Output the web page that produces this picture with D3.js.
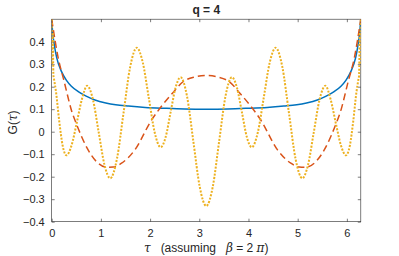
<!DOCTYPE html>
<html>
<head>
<meta charset="utf-8">
<script src="https://cdn.jsdelivr.net/npm/d3@7"></script>
<style>
    body { margin: 0; background: #fff; }
    text { font-family: "Liberation Sans", Arial, sans-serif; fill: #262626; }
</style>
</head>
<body>
<div id="chart"></div>
<script>
// values, tau from 0 to 2*pi
let blueTau = [0, 0.02, 0.05, 0.1, 0.2, 0.3, 0.4, 0.54, 0.7, 0.88, 1.1, 1.3, 1.56, 1.9, 2.3, 2.7, 3.1416,
    3.58, 3.98, 4.38, 4.72, 4.98, 5.18, 5.40, 5.58, 5.74, 5.88, 5.98, 6.08, 6.18, 6.23, 6.26, 6.2832];
let blueG = [0.5, 0.44, 0.39, 0.33, 0.267, 0.228, 0.202, 0.178, 0.158, 0.141, 0.128, 0.12, 0.114, 0.108, 0.104, 0.101, 0.1,
    0.101, 0.104, 0.108, 0.114, 0.12, 0.128, 0.141, 0.158, 0.178, 0.202, 0.228, 0.267, 0.33, 0.39, 0.44, 0.5];

let orangeTau = [0, 0.134, 0.25, 0.41, 0.51, 0.74, 0.91, 1.12, 1.25, 1.42, 1.69, 2.03, 2.2, 2.45, 2.67, 2.9, 3.1416,
    3.38, 3.61, 3.83, 4.08, 4.25, 4.59, 4.86, 5.03, 5.16, 5.37, 5.54, 5.77, 5.87, 6.03, 6.15, 6.2832];
let orangeG = [0.5, 0.326, 0.226, 0.089, 0.03, -0.081, -0.133, -0.158, -0.157, -0.14, -0.081, 0.052, 0.104, 0.17, 0.222, 0.243, 0.25,
    0.243, 0.222, 0.17, 0.104, 0.052, -0.081, -0.14, -0.157, -0.158, -0.133, -0.081, 0.03, 0.089, 0.226, 0.326, 0.5];

let yellowTau = [0, 0.01, 0.02, 0.035, 0.05, 0.087, 0.155, 0.22, 0.3, 0.405, 0.5, 0.615, 0.72,
    0.8375, 0.955, 1.0725, 1.19, 1.325, 1.46, 1.595, 1.73, 1.851, 1.9725, 2.094, 2.215,
    2.316, 2.4175, 2.519, 2.62, 2.75, 2.88, 3.01, 3.1416,
    3.273, 3.403, 3.533, 3.663, 3.764, 3.866, 3.967, 4.068, 4.189, 4.311, 4.432, 4.553,
    4.688, 4.823, 4.958, 5.093, 5.211, 5.328, 5.446, 5.563, 5.668, 5.783, 5.878, 5.983,
    6.063, 6.128, 6.196, 6.233, 6.248, 6.263, 6.273, 6.2832];
let yellowG = [0.5, 0.3, 0.44, 0.25, 0.23, 0.178, 0.044, -0.059, -0.105, -0.06, 0.03, 0.145, 0.204,
    0.144, -0.002, -0.147, -0.207, -0.122, 0.083, 0.288, 0.373, 0.308, 0.152, -0.004, -0.069,
    -0.024, 0.087, 0.197, 0.242, 0.158, -0.044, -0.246, -0.33,
    -0.246, -0.044, 0.158, 0.242, 0.197, 0.087, -0.024, -0.069, -0.004, 0.152, 0.308, 0.373,
    0.288, 0.083, -0.122, -0.207, -0.147, -0.002, 0.144, 0.204, 0.145, 0.03, -0.06, -0.105,
    -0.059, 0.044, 0.178, 0.23, 0.25, 0.44, 0.3, 0.5];

let xTicks = [0, 1, 2, 3, 4, 5, 6];
let yTicks = [-0.4, -0.3, -0.2, -0.1, 0, 0.1, 0.2, 0.3, 0.4];

var width = 399;
var height = 256;
// plot box edges
var boxL = 51.7, boxR = 360.8, boxT = 19.2, boxB = 221.7;

var svg = d3.select("#chart")
    .append("svg")
    .attr("width", width)
    .attr("height", height);

var x = d3.scaleLinear().domain([0, 2 * Math.PI]).range([boxL, boxR]);
var y = d3.scaleLinear().domain([-0.4, 0.5]).range([boxB, boxT]);

svg.append("defs").append("clipPath").attr("id", "plotclip")
    .append("rect")
    .attr("x", boxL).attr("y", boxT)
    .attr("width", boxR - boxL).attr("height", boxB - boxT);

function styleAxis(g) {
    g.select(".domain").remove();
    g.selectAll(".tick line").attr("stroke", "#262626").attr("stroke-width", 0.6);
    g.selectAll(".tick text")
        .attr("font-size", "11px")
        .attr("fill", "#262626");
}

svg.append("g")
    .attr("transform", "translate(0," + boxB + ")")
    .call(d3.axisBottom(x).tickValues(xTicks).tickSize(-3).tickPadding(8).tickFormat(d3.format("d")))
    .call(styleAxis);

svg.append("g")
    .attr("transform", "translate(0," + boxT + ")")
    .call(d3.axisTop(x).tickValues(xTicks).tickSize(-3).tickFormat(""))
    .call(styleAxis);

svg.append("g")
    .attr("transform", "translate(" + boxL + ",0)")
    .call(d3.axisLeft(y).tickValues(yTicks).tickSize(-3).tickPadding(7).tickFormat(function (d) {
        return d === 0 ? "0" : d3.format(".1f")(d);
    }))
    .call(styleAxis);

svg.append("g")
    .attr("transform", "translate(" + boxR + ",0)")
    .call(d3.axisRight(y).tickValues(yTicks).tickSize(-3).tickFormat(""))
    .call(styleAxis);

svg.append("rect")
    .attr("x", boxL).attr("y", boxT)
    .attr("width", boxR - boxL).attr("height", boxB - boxT)
    .attr("fill", "none")
    .attr("stroke", "#262626")
    .attr("stroke-width", 0.6);

function toPoints(taus, vals) {
    var pts = [];
    for (var i = 0; i < taus.length; i++) {
        pts.push([taus[i], vals[i]]);
    }
    return pts;
}

var line = d3.line()
    .x(function (d) { return x(d[0]); })
    .y(function (d) { return y(d[1]); })
    .curve(d3.curveMonotoneX);

var plot = svg.append("g").attr("clip-path", "url(#plotclip)");

plot.append("path")
    .datum(toPoints(blueTau, blueG))
    .attr("d", line)
    .attr("fill", "none")
    .attr("stroke", "#0072BD")
    .attr("stroke-width", 1.5);

plot.append("path")
    .datum(toPoints(orangeTau, orangeG))
    .attr("d", line)
    .attr("fill", "none")
    .attr("stroke", "#D95319")
    .attr("stroke-width", 1.5)
    .attr("stroke-dasharray", "7,4");

plot.append("path")
    .datum(toPoints(yellowTau, yellowG))
    .attr("d", line)
    .attr("fill", "none")
    .attr("stroke", "#EDB120")
    .attr("stroke-width", 2)
    .attr("stroke-dasharray", "2,1.5");

// title and labels
svg.append("text")
    .attr("x", (boxL + boxR) / 2)
    .attr("y", 14)
    .attr("text-anchor", "middle")
    .attr("font-size", "12px")
    .attr("font-weight", "bold")
    .attr("fill", "#000")
    .text("q = 4");

var ylab = svg.append("text")
    .attr("transform", "translate(17," + ((boxT + boxB) / 2 + 2) + ") rotate(-90)")
    .attr("text-anchor", "middle")
    .attr("font-size", "12px");
ylab.append("tspan").text("G(");
ylab.append("tspan").attr("font-style", "italic").attr("font-family", "DejaVu Serif, serif").text("τ");
ylab.append("tspan").text(")");

var xlab = svg.append("text")
    .attr("x", (boxL + boxR) / 2)
    .attr("y", 252)
    .attr("text-anchor", "middle")
    .attr("font-size", "12px")
    .attr("xml:space", "preserve");
xlab.append("tspan").attr("font-style", "italic").attr("font-family", "DejaVu Serif, serif").text("τ");
xlab.append("tspan").text("   (assuming   ");
xlab.append("tspan").attr("font-style", "italic").attr("font-family", "DejaVu Serif, serif").text("β");
xlab.append("tspan").text(" = 2 ");
xlab.append("tspan").attr("font-style", "italic").attr("font-family", "DejaVu Serif, serif").text("π");
xlab.append("tspan").text(")");
</script>
</body>
</html>
